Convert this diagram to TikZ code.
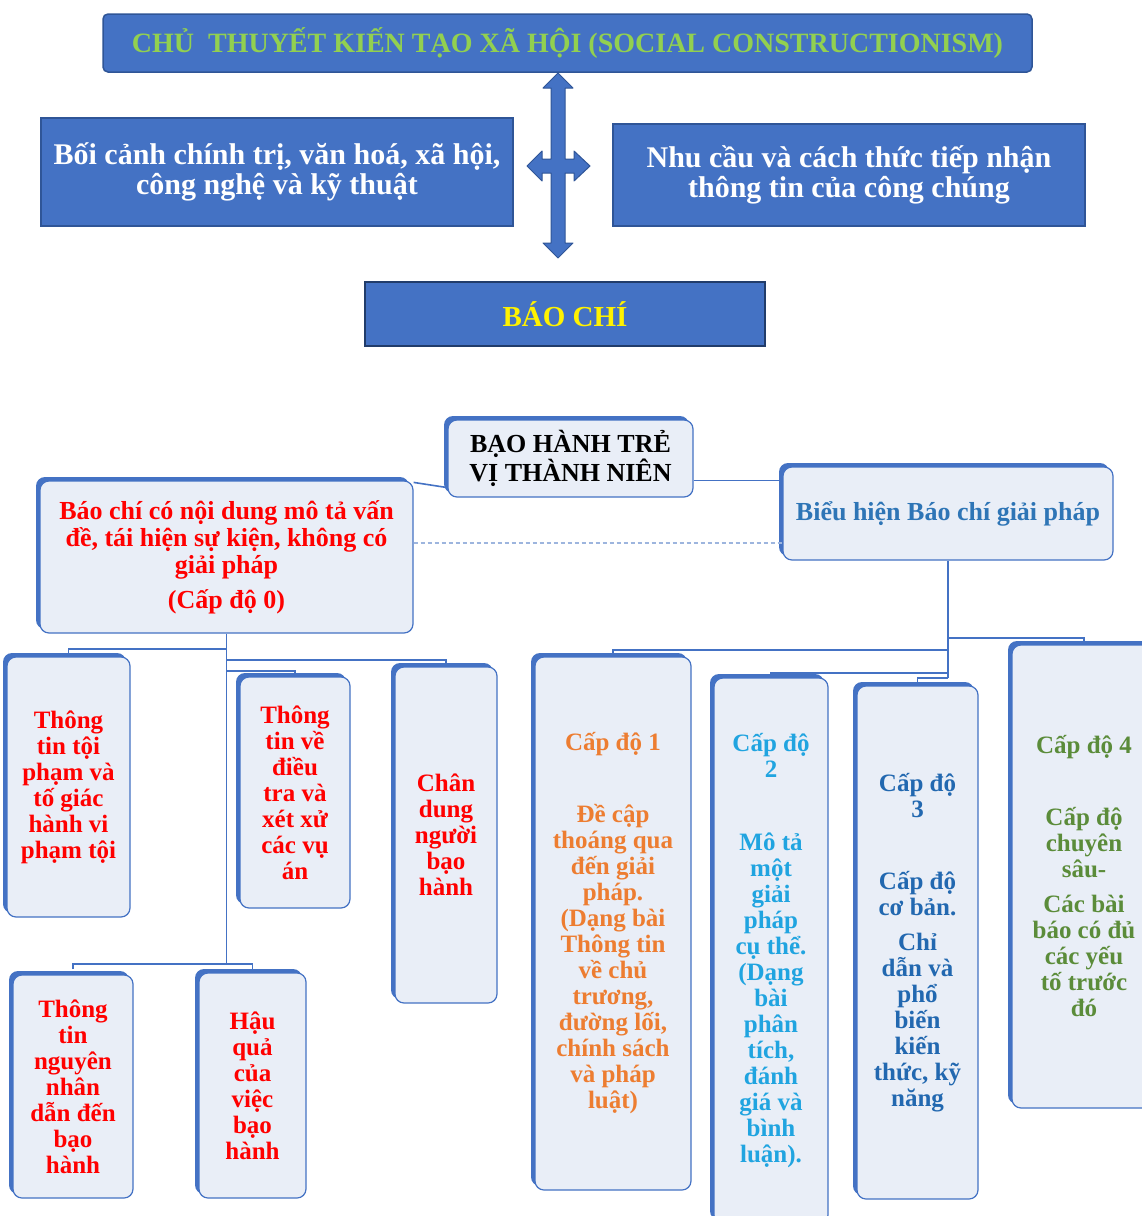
\documentclass[tikz,border=0pt]{standalone}
\usepackage{fontspec}
\setmainfont{Liberation Serif}
\usetikzlibrary{shadows}

\definecolor{boxblue}{HTML}{4472C4}
\definecolor{edgeblue}{HTML}{2F5597}
\definecolor{paleblue}{HTML}{E9EEF7}
\definecolor{limegreen}{HTML}{92D050}
\definecolor{lvorange}{HTML}{ED7D31}
\definecolor{lvcyan}{HTML}{20A4E0}
\definecolor{lvblue}{HTML}{2268B0}
\definecolor{lvgreen}{HTML}{5B8C3A}
\definecolor{bhblue}{HTML}{2E75B6}
\definecolor{dashblue}{HTML}{9DB5DE}

\tikzset{
  bar/.style={draw=edgeblue, fill=boxblue, line width=1.5pt, align=center,
    font=\bfseries\fontsize{30}{30}\selectfont},
  cell/.style={draw=boxblue, fill=paleblue, line width=1.2pt, rounded corners=9pt,
    align=center, inner sep=2pt, font=\bfseries\fontsize{25}{26}\selectfont,
    drop shadow={shadow xshift=-4pt, shadow yshift=4pt, fill=boxblue, opacity=1}},
  link/.style={draw=boxblue, line width=1.6pt},
  dashlink/.style={draw=dashblue, line width=1.2pt, dash pattern=on 4pt off 3pt}
}

\begin{document}
\begin{tikzpicture}[x=1pt, y=-1pt]
    \useasboundingbox (0,0) rectangle (1142,1216);
    \fill[white] (0,0) rectangle (1142,1216);

    % upper part
    \node[bar, rounded corners=5pt, minimum width=929, minimum height=58, text=limegreen,
      font=\bfseries\fontsize{28}{30}\selectfont] (theory) at (567.5,43)
      {CHỦ\ \ THUYẾT KIẾN TẠO XÃ HỘI (SOCIAL CONSTRUCTIONISM)};
    \node[bar, minimum width=472, minimum height=108, text=white] (context) at (277,172)
      {Bối cảnh chính trị, văn hoá, xã hội,\\công nghệ và kỹ thuật};
    \node[bar, minimum width=472, minimum height=102, text=white] (public) at (849,175)
      {Nhu cầu và cách thức tiếp nhận\\thông tin của công chúng};
    \node[bar, draw=edgeblue!70!black, minimum width=400, minimum height=64, text=yellow,
      font=\bfseries\fontsize{29}{30}\selectfont] (press) at (565,314) {BÁO CHÍ};

      \draw[fill=boxblue, draw=edgeblue, line width=1pt, line join=round]
        (558,73) -- (573,88) -- (565,88) -- (565,159) -- (574,159) -- (574,151)
        -- (590,166) -- (574,181) -- (574,173) -- (565,173) -- (565,243)
        -- (573,243) -- (558,258) -- (543,243) -- (551,243) -- (551,173)
        -- (542,173) -- (542,181) -- (527,166) -- (542,151) -- (542,159)
        -- (551,159) -- (551,88) -- (543,88) -- cycle;

    % lower part
    \node[cell, text=black, font=\bfseries\fontsize{26}{26}\selectfont,
      minimum width=245, minimum height=77] (root) at (570.5,458.5)
      {BẠO HÀNH TRẺ\\VỊ THÀNH NIÊN};
    \node[cell, text=red, font=\bfseries\fontsize{26}{27}\selectfont,
      minimum width=373, minimum height=152] (lv0) at (226.5,557)
      {Báo chí có nội dung mô tả vấn\\đề, tái hiện sự kiện, không có\\giải pháp\\[8pt](Cấp độ 0)};
    \node[cell, text=bhblue, font=\bfseries\fontsize{26}{27}\selectfont,
      minimum width=330, minimum height=93] (bh) at (948,513.5)
      {Biểu hiện Báo chí giải pháp};

      \draw[link] ([yshift=10pt]root.south west) -- ([yshift=-2pt]lv0.north east);
      \draw[link] ([yshift=-22pt]root.east) -- ([yshift=-22pt]root.east -| bh.west);
      \draw[dashlink] ([yshift=14pt]lv0.east) -- ([yshift=14pt]lv0.east -| bh.west);

    \node[cell, text=red, minimum width=123, minimum height=260] (c1) at (68.5,787)
      {Thông\\tin tội\\phạm và\\tố giác\\hành vi\\phạm tội};
    \node[cell, text=red, minimum width=110, minimum height=231] (c2) at (295,792.5)
      {Thông\\tin về\\điều\\tra và\\xét xử\\các vụ\\án};
    \node[cell, text=red, minimum width=102, minimum height=336] (c3) at (446,835)
      {Chân\\dung\\người\\bạo\\hành};
    \node[cell, text=red, minimum width=120, minimum height=223] (c4) at (73,1086.5)
      {Thông\\tin\\nguyên\\nhân\\dẫn đến\\bạo\\hành};
    \node[cell, text=red, minimum width=107, minimum height=225] (c5) at (252.5,1085.5)
      {Hậu\\quả\\của\\việc\\bạo\\hành};

      \draw[link] (lv0.south) -- (lv0.south |- 0,964);
      \draw[link] (lv0.south |- 0,649) -| (c1.north |- 0,653);
      \draw[link] (lv0.south |- 0,660) -| (c3.north |- 0,664);
      \draw[link] (lv0.south |- 0,671) -| (c2.north |- 0,675);
      \draw[link] (c4.north |- 0,969) -- (c4.north |- 0,964) -- (c5.north |- 0,964)
        -- (c5.north |- 0,969);

    \node[cell, text=lvorange, minimum width=156, minimum height=533] (L1) at (613,923.5)
      {Cấp độ 1\\[46pt]Đề cập\\thoáng qua\\đến giải\\pháp.\\(Dạng bài\\Thông tin\\về chủ\\trương,\\đường lối,\\chính sách\\và pháp\\luật)};
    \node[cell, text=lvcyan, minimum width=114, minimum height=546] (L2) at (771,951)
      {Cấp độ\\2\\[47pt]Mô tả\\một\\giải\\pháp\\cụ thể.\\(Dạng\\bài\\phân\\tích,\\đánh\\giá và\\bình\\luận).};
    \node[cell, text=lvblue, minimum width=121, minimum height=513] (L3) at (917.5,942.5)
      {Cấp độ\\3\\[46pt]Cấp độ\\cơ bản.\\[9pt]Chỉ\\dẫn và\\phổ\\biến\\kiến\\thức, kỹ\\năng};
    \node[cell, text=lvgreen, minimum width=144, minimum height=463] (L4) at (1084,876.5)
      {Cấp độ 4\\[46pt]Cấp độ\\chuyên\\sâu-\\[9pt]Các bài\\báo có đủ\\các yếu\\tố trước\\đó};

      \draw[link] (bh.south) -- (bh.south |- 0,678);
      \draw[link] (bh.south |- 0,638) -| (L4.north |- 0,642);
      \draw[link] (bh.south |- 0,650) -| (L1.north |- 0,653);
      \draw[link] (bh.south |- 0,673) -| (L2.north |- 0,676);
      \draw[link] (bh.south |- 0,678) -| (L3.north |- 0,683);

\end{tikzpicture}
\end{document}
